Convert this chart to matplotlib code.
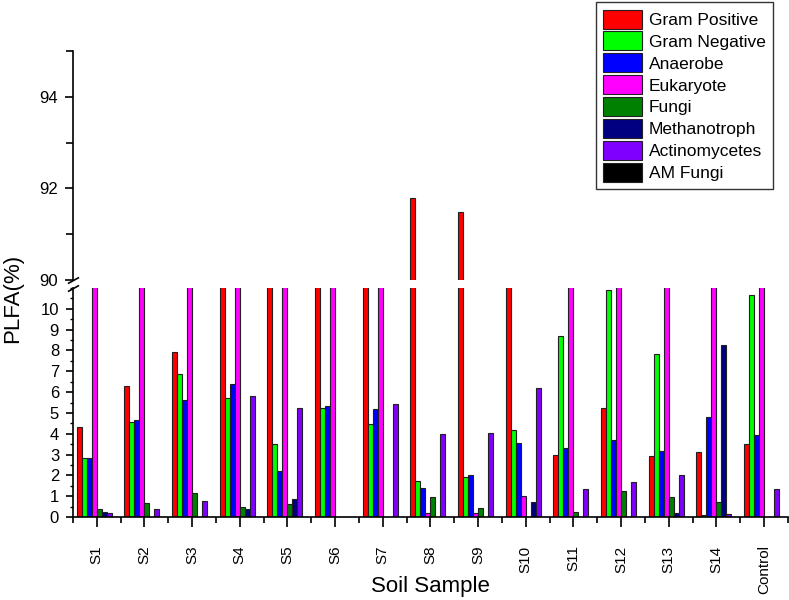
import numpy as np
import matplotlib.pyplot as plt
from matplotlib.ticker import MultipleLocator

plt.rcParams['font.family'] = ['Liberation Sans', 'DejaVu Sans']

samples = ['S1', 'S2', 'S3', 'S4', 'S5', 'S6', 'S7', 'S8', 'S9', 'S10',
           'S11', 'S12', 'S13', 'S14', 'Control']

gram_pos = [4.31, 6.30, 7.93, 45.0, 55.0, 50.0, 60.0, 91.78, 91.48, 84.4,
            2.97, 5.23, 2.93, 3.13, 3.51]
gram_neg = [2.82, 4.55, 6.89, 5.73, 3.51, 5.22, 4.48, 1.72, 1.90, 4.16,
            8.68, 10.88, 7.85, 0.11, 10.67]
anaerobe = [2.82, 4.64, 5.61, 6.38, 2.22, 5.33, 5.20, 1.40, 2.03, 3.54,
            3.32, 3.68, 3.16, 4.82, 3.95]
eukaryote = [89.2, 83.5, 77.6, 36.2, 32.6, 39.5, 24.9, 0.21, 0.19, 0.99,
             83.5, 77.3, 82.9, 82.8, 80.5]
fungi = [0.38, 0.65, 1.16, 0.48, 0.62, 0, 0, 0.96, 0.41, 0,
         0.24, 1.23, 0.96, 0.72, 0]
methanotroph = [0.24, 0, 0, 0.40, 0.85, 0, 0, 0, 0, 0.72,
                0, 0, 0.19, 8.28, 0]
actinomycetes = [0.19, 0.37, 0.78, 5.79, 5.23, 0, 5.45, 4.00, 4.04, 6.20,
                 1.34, 1.66, 2.03, 0.16, 1.34]
am_fungi = [0, 0, 0, 0, 0, 0, 0, 0, 0, 0, 0, 0, 0, 0, 0]

groups = ['Gram Positive', 'Gram Negative', 'Anaerobe', 'Eukaryote', 'Fungi',
          'Methanotroph', 'Actinomycetes', 'AM Fungi']
series = [gram_pos, gram_neg, anaerobe, eukaryote, fungi, methanotroph,
          actinomycetes, am_fungi]
colors = ['#ff0000', '#00ff00', '#0000ff', '#ff00ff', '#008000', '#000080',
          '#8000ff', '#000000']

fig = plt.figure(figsize=(7.89, 6.0), dpi=100)
ax_lo = fig.add_axes([0.0925, 0.1383, 0.906, 0.3817])
ax_hi = fig.add_axes([0.0925, 0.5333, 0.906, 0.3817])

x = np.arange(len(samples))
w = 0.105
handles = []
for i, (vals, col, name) in enumerate(zip(series, colors, groups)):
    pos = x + (i - 3.5) * w
    for ax in (ax_lo, ax_hi):
        b = ax.bar(pos, vals, width=w, color=col, edgecolor='#202020',
                   linewidth=0.8, label=name)
    handles.append(b)

for ax in (ax_lo, ax_hi):
    ax.set_xlim(-0.5, 14.5)
    ax.spines['top'].set_visible(False)
    ax.spines['right'].set_visible(False)
    ax.spines['left'].set_linewidth(1.2)
    ax.spines['bottom'].set_linewidth(1.2)

ax_lo.set_ylim(0, 11)
ax_lo.yaxis.set_major_locator(MultipleLocator(1))
ax_lo.yaxis.set_minor_locator(MultipleLocator(0.5))
ax_lo.set_yticks(range(0, 11))
ax_lo.set_xticks(x)
ax_lo.set_xticklabels(samples, rotation=90, fontsize=11)
ax_lo.xaxis.set_minor_locator(MultipleLocator(1, offset=0.5))
ax_lo.tick_params(axis='x', which='major', length=7.5, width=1.2, pad=13)
ax_lo.tick_params(axis='x', which='minor', length=4, width=1.2)
ax_lo.tick_params(axis='y', which='major', length=5, width=1.2, labelsize=12, pad=5)
ax_lo.tick_params(axis='y', which='minor', length=2, width=1.0)

ax_hi.set_ylim(90, 95)
ax_hi.set_yticks([90, 92, 94])
ax_hi.yaxis.set_minor_locator(MultipleLocator(1))
ax_hi.spines['bottom'].set_visible(False)
ax_hi.set_xticks([])
ax_hi.tick_params(axis='y', which='major', length=6, width=1.2, labelsize=12, pad=5)
ax_hi.tick_params(axis='y', which='minor', length=5, width=1.2)

# break marks on the left spine
kw = dict(marker=[(-1, -0.55), (1, 0.55)], markersize=8, linestyle='none',
          color='k', mec='k', mew=1.2, clip_on=False)
ax_lo.plot([0], [1], transform=ax_lo.transAxes, **kw)
ax_hi.plot([0], [0], transform=ax_hi.transAxes, **kw)

fig.text(0.016, 0.502, 'PLFA(%)', rotation=90, ha='center', va='center', fontsize=16)
fig.text(0.545, 0.022, 'Soil Sample', ha='center', va='center', fontsize=16)

leg = fig.legend(handles, groups, loc='upper right',
                 bbox_to_anchor=(0.98, 0.997), borderaxespad=0, fontsize=12.5,
                 handlelength=2.2, handleheight=1.3, labelspacing=0.17,
                 handletextpad=0.4, borderpad=0.45, fancybox=False,
                 framealpha=1, edgecolor='#333333')
leg.get_frame().set_linewidth(1.0)

fig.savefig('out.png', dpi=100)
